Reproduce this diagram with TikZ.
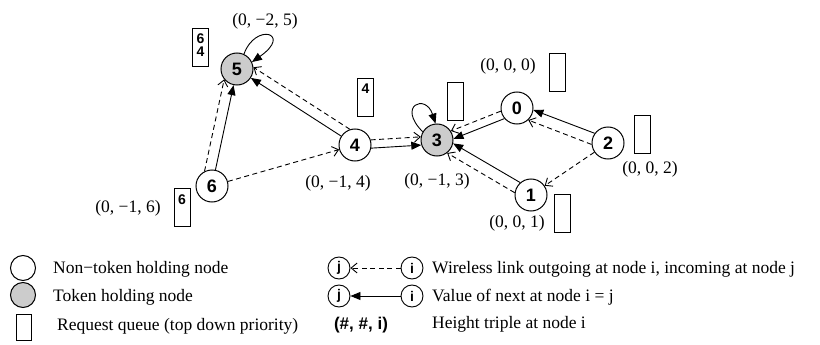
\documentclass[tikz,border=0pt]{standalone}
\usepackage{fontspec}
\setmainfont{Liberation Serif}
\newfontfamily\hv{Liberation Sans}
\usetikzlibrary{arrows.meta}
\begin{document}
\begin{tikzpicture}[x=1pt,y=1pt,
 nd/.style={circle, draw, line width=1pt, minimum size=32pt, inner sep=0pt, fill=white, font=\hv\bfseries\fontsize{18}{18}\selectfont},
 tok/.style={nd, fill=gray!40},
 sml/.style={circle, draw, line width=0.9pt, minimum size=22pt, inner sep=0pt, font=\hv\bfseries\fontsize{14}{14}\selectfont},
 qbox/.style={draw, line width=0.9pt, minimum width=16pt, minimum height=38pt, inner sep=0pt},
 qtxt/.style={font=\hv\bfseries\fontsize{14}{13}\selectfont, align=center, inner sep=0pt},
 lbl/.style={font=\fontsize{17.5}{20}\selectfont, inner sep=0pt},
 sol/.style={line width=0.9pt, -{Triangle[length=10pt,width=8pt]}},
 dsh/.style={line width=0.9pt, dash pattern=on 5pt off 3.5pt, -{Straight Barb[length=6pt,width=10pt]}},
]
\useasboundingbox (0,0) rectangle (820,-345);
\fill[white] (0,0) rectangle (820,-345);

% nodes
\node[tok] (n5) at (237,-69) {5};
\node[nd]  (n4) at (355,-145) {4};
\node[nd]  (n6) at (212,-186) {6};
\node[tok] (n3) at (437,-140) {3};
\node[nd]  (n0) at (517,-108) {0};
\node[nd]  (n2) at (608,-143) {2};
\node[nd]  (n1) at (531,-195) {1};

% queues
\node[qbox] (q5) at (200.5,-47) {};
\node[qtxt, anchor=north] (q5t) at ([yshift=-6pt]q5.north) {6\\4};
\node[qbox] (q4) at (365.5,-97.5) {};
\node[qtxt, anchor=north] (q4t) at ([yshift=-6pt]q4.north) {4};
\node[qbox] (q6) at (182,-207.5) {};
\node[qtxt, anchor=north] (q6t) at ([yshift=-6pt]q6.north) {6};
\node[qbox] (q3) at (455.5,-101) {};
\node[qbox] (q0) at (557.5,-72.5) {};
\node[qbox] (q2) at (642.5,-134) {};
\node[qbox] (q1) at (562,-213.5) {};

% height labels
\node[lbl, anchor=base] (l5) at (265,-25.5) {(0, −2, 5)};
\node[lbl, anchor=base] (l6) at (128,-212.5) {(0, −1, 6)};
\node[lbl, anchor=base] (l4) at (338,-187.5) {(0, −1, 4)};
\node[lbl, anchor=base] (l3) at (437,-185.5) {(0, −1, 3)};
\node[lbl, anchor=base] (l0) at (508,-70.5) {(0, 0, 0)};
\node[lbl, anchor=base] (l2) at (650,-173.5) {(0, 0, 2)};
\node[lbl, anchor=base] (l1) at (517,-227.5) {(0, 0, 1)};

% edges
\draw[sol] (n6) -- (n5);
\draw[dsh] (n6.117) -- (n5.219);
\draw[sol] (n4) -- (n5);
\draw[dsh] (n4.108) -- (n5.6);
\draw[dsh] (n6) -- (n4);
\draw[sol] (n4.-11) -- (n3.198);
\draw[dsh] (n4.18) -- (n3.169);
\draw[sol] (n0.220) -- (n3.4);
\draw[dsh] (n0.191) -- (n3.33);
\draw[sol] (n1.131) -- (n3.-12);
\draw[dsh] (n1.172) -- (n3.-52);
\draw[sol] (n2.144) -- (n0.-7);
\draw[dsh] (n2.185) -- (n0.-47);
\draw[dsh] (n2) -- (n1);
\draw[sol] (n5.65) .. controls +(70:34) and +(35:50) .. (n5.25);
\draw[sol] (n3.150) .. controls +(135:37) and +(108:32) .. (n3.95);

% legend
\node[nd, minimum size=25pt] (lw) at (23,-268) {};
\node[tok, minimum size=25pt] (lg) at (23,-295) {};
\node[qbox, minimum width=15pt, minimum height=26pt] (lq) at (23.5,-327) {};
\node[lbl, anchor=base west] (tw) at (53,-273.5) {Non−token holding node};
\node[lbl, anchor=base west] (tg) at (53,-301.5) {Token holding node};
\node[lbl, anchor=base west] (tq) at (57,-330.5) {Request queue (top down priority)};

\node[sml] (j1) at (339,-268) {j};
\node[sml] (i1) at (412,-268) {i};
\draw[dsh] (i1) -- (j1);
\node[sml] (j2) at (339,-296) {j};
\node[sml] (i2) at (412,-296) {i};
\draw[sol] (i2) -- (j2);
\node[font=\hv\bfseries\fontsize{17}{17}\selectfont, anchor=base, inner sep=0pt] (ht) at (361,-329) {(\#, \#, i)};
\node[lbl, anchor=base west] (tl1) at (432,-273.5) {Wireless link outgoing at node i, incoming at node j};
\node[lbl, anchor=base west] (tl2) at (432,-301) {Value of next at node i = j};
\node[lbl, anchor=base west] (tl3) at (432,-328.5) {Height triple at node i};
\end{tikzpicture}
\end{document}
